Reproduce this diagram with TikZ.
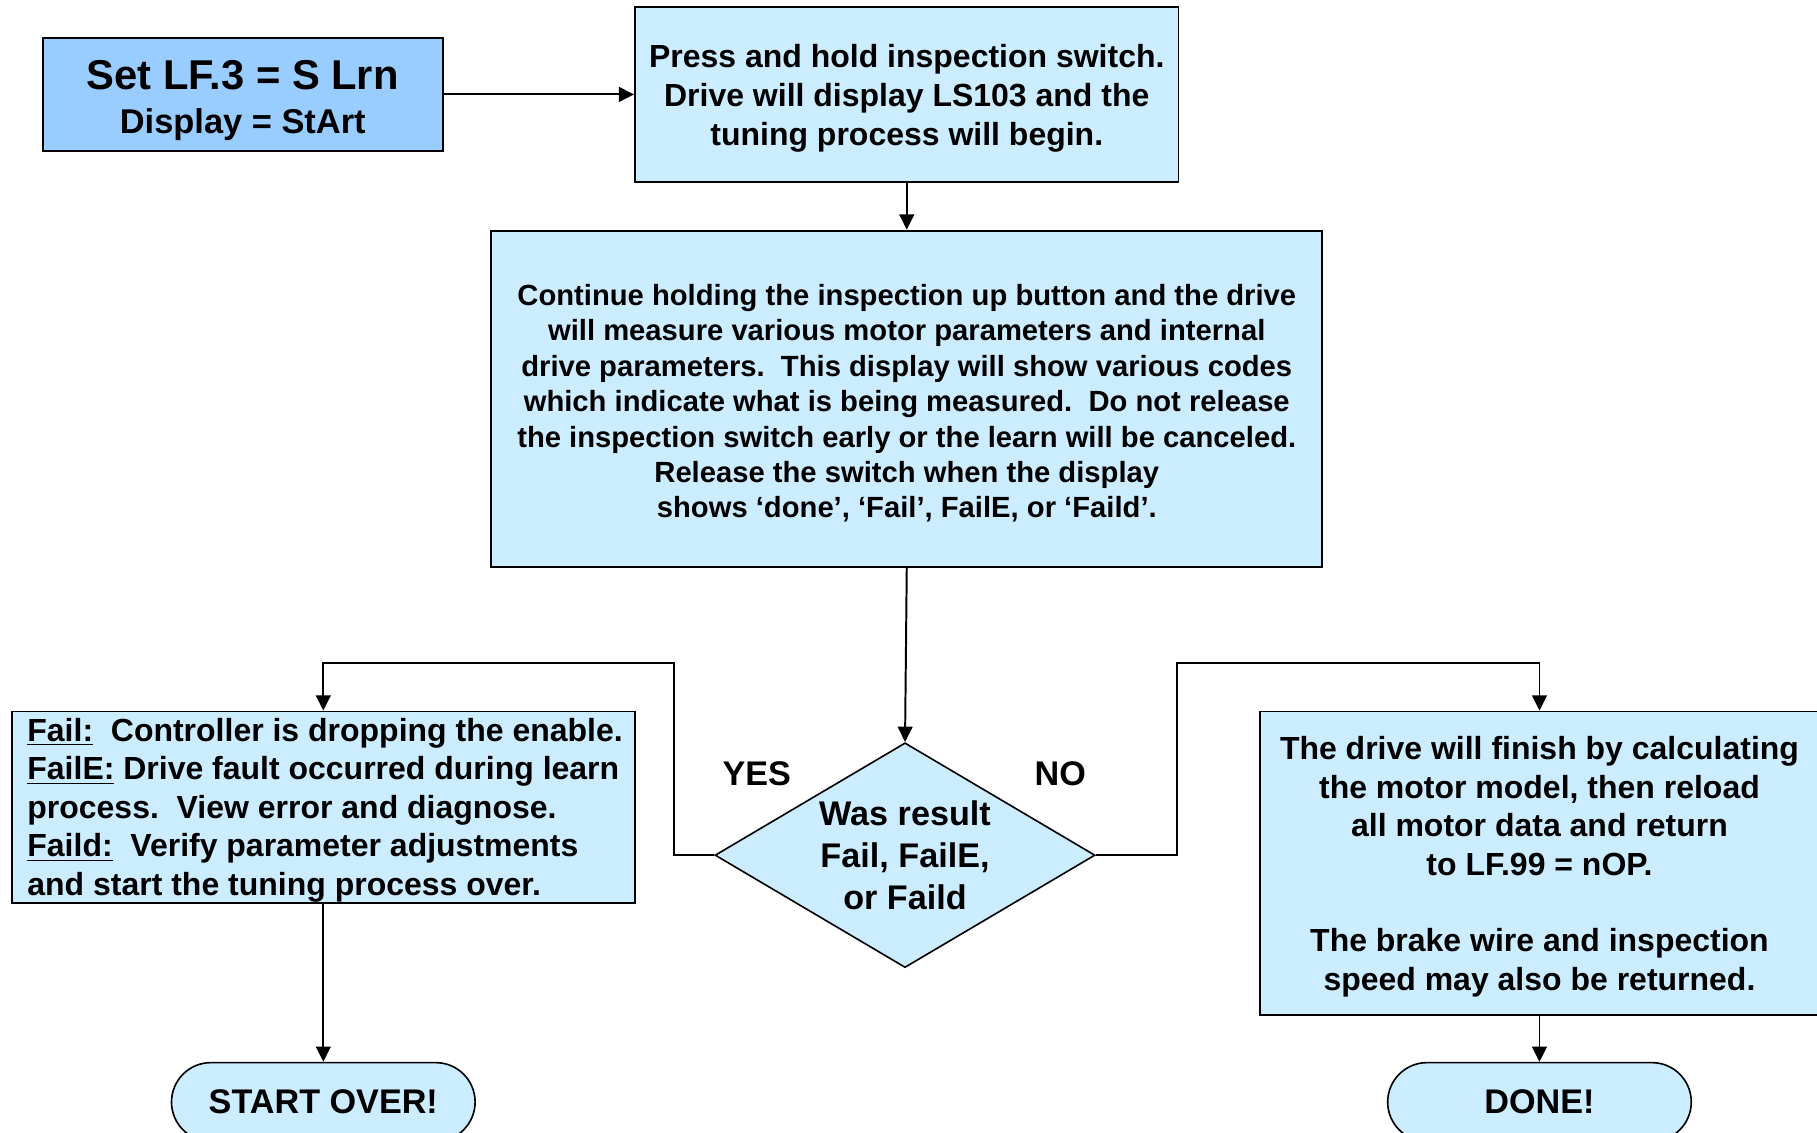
\documentclass[tikz,border=0pt]{standalone}
\usepackage{fontspec}
\setmainfont{Liberation Sans}
\usetikzlibrary{shapes.geometric,arrows.meta}
\definecolor{paleblue}{RGB}{204,236,255}
\definecolor{skyblue}{RGB}{153,204,255}
% invisible strut that lowers a text block a little inside its box
\newcommand{\lowerby}[1]{\rule{0pt}{#1}}
\tikzset{
  box/.style={draw=black, line width=0.8pt, fill=paleblue, align=center,
    inner sep=2pt, text=black},
  decision/.style={draw=black, line width=0.7pt, fill=paleblue, diamond,
    inner sep=0pt, minimum width=164pt, minimum height=97pt},
  terminal/.style={draw=black, line width=0.7pt, fill=paleblue,
    rounded corners=17pt, minimum width=131pt, minimum height=34pt,
    font={\fontsize{14.75pt}{18pt}\selectfont\bfseries}},
  arr/.style={line width=0.85pt, -{Triangle[length=6.6pt,width=6.4pt]}},
  fbody/.style={font={\fontsize{13.8pt}{16.6pt}\selectfont\bfseries}},
  fsmall/.style={font={\fontsize{12.6pt}{15.25pt}\selectfont\bfseries}},
  fdec/.style={font={\fontsize{14.75pt}{18pt}\selectfont\bfseries}},
}
\begin{document}
\begin{tikzpicture}[x=0.5pt, y=-0.5pt]
  \useasboundingbox (0,0) rectangle (1568,977);
  \clip (0,0) rectangle (1568,977);

  % process boxes
  \node[box, fill=skyblue, minimum width=172.5pt, minimum height=48.5pt,
        font={\fontsize{18pt}{19pt}\selectfont\bfseries}] (A) at (209.5,81.5)
    {\lowerby{18pt}Set LF.3 = S Lrn\\
     {\fontsize{14.85pt}{19pt}\selectfont Display = StArt}};

  \node[box, minimum width=234.5pt, minimum height=75.5pt,
        font={\fontsize{13.8pt}{16.75pt}\selectfont\bfseries}] (B) at (782.5,81.5)
    {\lowerby{13.5pt}Press and hold inspection switch.\\
     Drive will display LS103 and the\\
     tuning process will begin.};

  \node[box, fsmall, minimum width=358.5pt, minimum height=145pt] (C) at (782.5,344)
    {\lowerby{13.2pt}Continue holding the inspection up button and the drive\\
     will measure various motor parameters and internal\\
     drive parameters.\ \ This display will show various codes\\
     which indicate what is being measured.\ \ Do not release\\
     the inspection switch early or the learn will be canceled.\\
     Release the switch when the display\\
     shows ‘done’, ‘Fail’, FailE, or ‘Faild’.};

  % decision
  \node[decision] (D) at (781,738) {};
  \node[fdec, align=center, inner sep=0pt] (Dtext) at (D.center)
    {Was result\\ Fail, FailE,\\ or Faild};

  \node[fdec] (yes) at (653,668) {YES};
  \node[fdec] (no) at (915,668) {NO};

  % outcome boxes
  \node[box, fbody, align=left, inner ysep=0pt, minimum width=269pt, minimum height=82.5pt] (E) at (279,696.5)
    {\lowerby{12.6pt}\hspace*{1.5pt}\underline{Fail:}\ \ Controller is dropping the enable.\\
     \hspace*{1.5pt}\underline{FailE:} Drive fault occurred during learn\\
     \hspace*{1.5pt}process.\ \ View error and diagnose.\\
     \hspace*{1.5pt}\underline{Faild:}\ \ Verify parameter adjustments\\
     \hspace*{1.5pt}and start the tuning process over.};

  \node[box, fbody, minimum width=241.5pt, minimum height=131pt] (F) at (1328.5,745)
    {\lowerby{13pt}The drive will finish by calculating\\
     the motor model, then reload\\
     all motor data and return\\
     to LF.99 = nOP.\\[16.6pt]
     The brake wire and inspection\\
     speed may also be returned.};

  % terminals
  \node[terminal] (S) at (279,951) {START OVER!};
  \node[terminal] (T) at (1328.5,951) {DONE!};

  % routing corners
  \coordinate (yesturn) at (582,572);
  \coordinate (noturn) at (1016,572);

  % connectors
  \draw[arr] (A.east) -- (B.west);
  \draw[arr] (B.south) -- (C.north);
  \draw[arr] (C.south) -- (D.north);
  \draw[arr] (D.west) -| (yesturn) -| (E.north);
  \draw[arr] (D.east) -| (noturn) -| (F.north);
  \draw[arr] (E.south) -- (S.north);
  \draw[arr] (F.south) -- (T.north);
\end{tikzpicture}
\end{document}
